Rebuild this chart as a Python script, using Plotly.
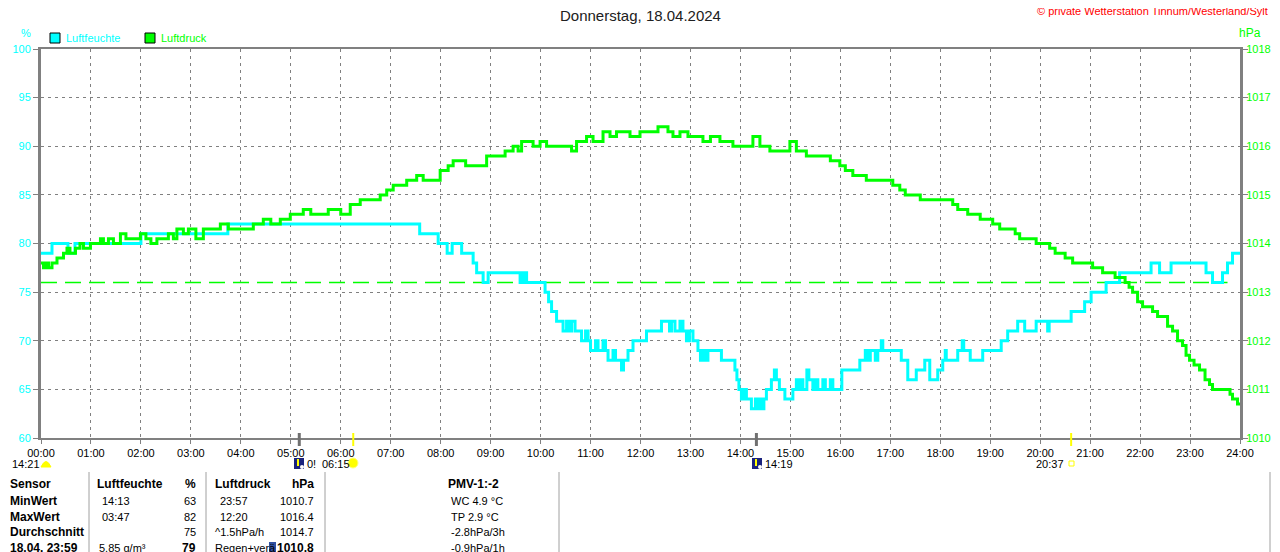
import plotly.graph_objects as go

# Luftfeuchte (%), Stufenwerte: Uhrzeit in Stunden
hum_t = [0.00, 0.22, 0.54, 0.68, 2.00, 3.74, 7.58, 7.95, 8.13, 8.23, 8.42, 8.65, 8.72, 8.85, 8.95,
         9.59, 9.62, 9.66, 9.70, 9.72, 10.09, 10.16, 10.22, 10.32, 10.45, 10.52, 10.58, 10.62, 10.69,
         10.82, 10.90, 10.95, 11.00, 11.10, 11.15, 11.25, 11.30, 11.35, 11.45, 11.50, 11.62, 11.66,
         11.75, 11.85, 12.12, 12.42, 12.58, 12.62, 12.69, 12.79, 12.85, 12.92, 12.98, 13.05, 13.15,
         13.20, 13.25, 13.30, 13.35, 13.62, 13.89, 13.93, 13.97, 14.02, 14.08, 14.12, 14.22, 14.30,
         14.33, 14.38, 14.42, 14.47, 14.52, 14.62, 14.68, 14.72, 14.78, 14.89, 15.05, 15.12, 15.15,
         15.20, 15.25, 15.33, 15.37, 15.45, 15.50, 15.55, 15.65, 15.70, 15.80, 15.85, 16.03, 16.39,
         16.50, 16.55, 16.60, 16.70, 16.75, 16.82, 16.85, 17.22, 17.35, 17.52, 17.69, 17.79, 17.95,
         18.05, 18.10, 18.12, 18.35, 18.44, 18.47, 18.60, 18.85, 19.22, 19.35, 19.55, 19.69, 19.92,
         20.15, 20.18, 20.62, 20.89, 21.02, 21.32, 21.59, 22.22, 22.39, 22.62, 23.32, 23.45, 23.65,
         23.75, 23.85, 24.00]
hum_v = [79, 80, 79, 80, 81, 82, 81, 80, 79, 80, 79, 78, 77, 76, 77,
         76, 77, 76, 77, 76, 75, 74, 73, 72, 71, 72, 71, 72, 71,
         70, 71, 70, 69, 70, 69, 70, 69, 68, 69, 68, 67, 68,
         69, 70, 71, 72, 71, 72, 71, 72, 71, 70, 71, 70, 69,
         68, 69, 68, 69, 68, 67, 66, 65, 64, 65, 64, 63, 64,
         63, 64, 63, 64, 65, 66, 67, 66, 65, 64, 65, 66, 65,
         66, 65, 67, 66, 65, 66, 65, 66, 65, 66, 65, 67, 68,
         69, 68, 69, 68, 69, 70, 69, 68, 66, 67, 68, 66, 67,
         68, 69, 68, 69, 70, 69, 68, 69, 70, 71, 72, 71, 72,
         71, 72, 73, 74, 75, 76, 77, 78, 77, 78, 77, 76, 77,
         78, 79, 79]

# Luftdruck (hPa)
pres_t = [0.00, 0.05, 0.10, 0.15, 0.22, 0.32, 0.40, 0.45, 0.52, 0.58, 0.69, 0.78, 0.85, 0.99, 1.10,
          1.19, 1.25, 1.35, 1.45, 1.59, 1.70, 1.80, 1.99, 2.10, 2.20, 2.32, 2.45, 2.55, 2.65, 2.72,
          2.85, 2.95, 3.10, 3.25, 3.40, 3.59, 3.75, 3.90, 4.12, 4.25, 4.45, 4.60, 4.79, 4.99, 5.10,
          5.25, 5.40, 5.59, 5.75, 5.85, 6.00, 6.19, 6.39, 6.50, 6.65, 6.79, 6.92, 7.05, 7.20, 7.32,
          7.45, 7.52, 7.65, 7.79, 7.99, 8.15, 8.25, 8.39, 8.50, 8.59, 8.75, 8.82, 8.92, 9.05, 9.15,
          9.29, 9.45, 9.55, 9.62, 9.75, 9.85, 9.99, 10.12, 10.25, 10.45, 10.62, 10.72, 10.92, 11.05,
          11.15, 11.25, 11.39, 11.52, 11.65, 11.79, 11.99, 12.15, 12.30, 12.35, 12.49, 12.55, 12.65,
          12.79, 12.95, 13.12, 13.25, 13.40, 13.59, 13.72, 13.85, 14.12, 14.25, 14.39, 14.50, 14.59,
          14.80, 14.99, 15.12, 15.32, 15.50, 15.65, 15.80, 15.92, 15.99, 16.10, 16.25, 16.40, 16.52,
          16.70, 16.89, 17.05, 17.19, 17.30, 17.45, 17.60, 17.72, 17.92, 18.12, 18.25, 18.35, 18.45,
          18.55, 18.65, 18.80, 18.92, 19.05, 19.19, 19.39, 19.50, 19.59, 19.75, 19.92, 20.05, 20.19,
          20.30, 20.39, 20.50, 20.65, 20.80, 20.92, 21.05, 21.12, 21.25, 21.39, 21.50, 21.62, 21.70,
          21.78, 21.85, 21.95, 22.05, 22.15, 22.25, 22.35, 22.45, 22.55, 22.65, 22.75, 22.85, 22.92,
          22.99, 23.08, 23.19, 23.30, 23.39, 23.45, 23.60, 23.72, 23.80, 23.85, 23.95, 24.00]
pres_v = [1013.6, 1013.5, 1013.6, 1013.5, 1013.6, 1013.7, 1013.7, 1013.8, 1013.9, 1013.8, 1013.9,
          1014.0, 1013.9, 1014.0, 1014.0, 1014.1, 1014.0, 1014.1, 1014.0, 1014.2, 1014.1, 1014.1,
          1014.2, 1014.1, 1014.0, 1014.1, 1014.1, 1014.2, 1014.1, 1014.3, 1014.2, 1014.3, 1014.1,
          1014.3, 1014.3, 1014.4, 1014.3, 1014.3, 1014.3, 1014.4, 1014.5, 1014.4, 1014.5, 1014.6,
          1014.6, 1014.7, 1014.6, 1014.6, 1014.7, 1014.7, 1014.6, 1014.8, 1014.9, 1014.9, 1014.9,
          1015.0, 1015.1, 1015.2, 1015.2, 1015.3, 1015.3, 1015.4, 1015.3, 1015.3, 1015.5, 1015.6,
          1015.7, 1015.7, 1015.6, 1015.6, 1015.6, 1015.6, 1015.8, 1015.8, 1015.8, 1015.9, 1016.0,
          1015.9, 1016.1, 1016.1, 1016.0, 1016.1, 1016.0, 1016.0, 1016.0, 1015.9, 1016.1, 1016.2,
          1016.1, 1016.1, 1016.3, 1016.2, 1016.3, 1016.3, 1016.2, 1016.3, 1016.3, 1016.3, 1016.4,
          1016.4, 1016.3, 1016.2, 1016.3, 1016.2, 1016.2, 1016.1, 1016.2, 1016.1, 1016.1, 1016.0,
          1016.0, 1016.2, 1016.0, 1016.0, 1015.9, 1015.9, 1016.1, 1015.9, 1015.8, 1015.8, 1015.8,
          1015.7, 1015.7, 1015.6, 1015.5, 1015.4, 1015.4, 1015.3, 1015.3, 1015.3, 1015.2, 1015.1,
          1015.0, 1015.0, 1014.9, 1014.9, 1014.9, 1014.9, 1014.8, 1014.7, 1014.7, 1014.6, 1014.6,
          1014.5, 1014.5, 1014.4, 1014.3, 1014.3, 1014.2, 1014.1, 1014.1, 1014.0, 1014.0, 1013.9,
          1013.8, 1013.8, 1013.7, 1013.6, 1013.6, 1013.6, 1013.5, 1013.5, 1013.4, 1013.4, 1013.3,
          1013.3, 1013.2, 1013.1, 1013.0, 1012.8, 1012.7, 1012.7, 1012.6, 1012.5, 1012.5, 1012.3,
          1012.2, 1012.0, 1011.9, 1011.7, 1011.6, 1011.5, 1011.4, 1011.2, 1011.1, 1011.0, 1011.0,
          1011.0, 1010.9, 1010.8, 1010.7, 1010.7]

ref_t = [0.0, 23.75]
ref_v = [76, 76]

hours = list(range(25))
hour_labels = [f"{h:02d}:00" for h in hours]

table_rows = [
    ["Sensor", "Luftfeuchte", "%", "Luftdruck", "hPa", "PMV-1:-2"],
    ["MinWert", "14:13", "63", "23:57", "1010.7", "WC 4.9 °C"],
    ["MaxWert", "03:47", "82", "12:20", "1016.4", "TP 2.9 °C"],
    ["Durchschnitt", "", "75", "^1.5hPa/h", "1014.7", "-2.8hPa/3h"],
    ["18.04. 23:59", "5.85 g/m³", "79", "Regen+verä", "1010.8", "-0.9hPa/1h"],
]

# the page puts the figure 8px in from the top-left corner
OFF = 8
W, H = 1280 - OFF, 552 - OFF
L, T = 41 - OFF, 49 - OFF
R = W - (1240 - OFF)
B = H - (438 - OFF)
PW, PH = W - L - R, H - T - B
FONT = "Liberation Sans, Arial, sans-serif"
CYAN = "#00FFFF"
GREEN = "#00FF00"
GRAY = "#808080"


def px(x):
    # page pixel -> paper
    return (x - OFF - L) / PW


def py(y):
    return (H - B - (y - OFF)) / PH


fig = go.Figure()

fig.add_trace(go.Scatter(x=ref_t, y=ref_v, mode="lines", yaxis="y",
                         line=dict(color=GREEN, width=1.5, dash="16px,8px"), hoverinfo="skip"))
fig.add_trace(go.Scatter(x=pres_t, y=pres_v, mode="lines", yaxis="y2", name="Luftdruck",
                         line=dict(color=GREEN, width=3, shape="hv")))
fig.add_trace(go.Scatter(x=hum_t, y=hum_v, mode="lines", yaxis="y", name="Luftfeuchte",
                         line=dict(color=CYAN, width=3, shape="hv")))

ann = []


def text(x, y, s, color="black", size=11, anchor="left", bold=False):
    if bold:
        s = f"<b>{s}</b>"
    ann.append(dict(x=px(x), y=py(y), xref="paper", yref="paper", text=s, showarrow=False,
                    xanchor=anchor, yanchor="middle", font=dict(family=FONT, size=size, color=color)))


text(640, 15, "Donnerstag, 18.04.2024", size=15, anchor="center", color="#202020")
text(1270, 11, "© private Wetterstation Tinnum/Westerland/Sylt", color="#FF0000", size=11, anchor="right")
text(26, 33, "%", color=CYAN, size=11, anchor="center")
text(1250, 33, "hPa", color=GREEN, size=12, anchor="center")
text(64, 38, "Luftfeuchte", color=CYAN, size=11)
text(159, 38, "Luftdruck", color=GREEN, size=11)

# Sonne/Mond Zeiten unter der Achse
text(10, 464, "14:21")
text(305, 464, "0!")
text(320, 464, "06:15")
text(763, 464, "14:19")
text(1066, 464, "20:37", anchor="right")

# Tabelle
row_y = [484, 501, 517, 532, 548]
for i, row in enumerate(table_rows):
    head = i == 0
    last = i == len(table_rows) - 1
    bsize = 12
    text(8, row_y[i], row[0], bold=True, size=bsize)
    text(95 if head else (97 if last else 100), row_y[i], row[1], bold=head, size=bsize if head else 11)
    text(198, row_y[i], row[2], anchor="right", bold=head or last, size=bsize if head or last else 11)
    text(213 if (head or i >= 3) else 218, row_y[i], row[3], bold=head, size=bsize if head else 11)
    text(316, row_y[i], row[4], anchor="right", bold=head or last, size=bsize if head or last else 11)
    if head:
        text(474, row_y[i], row[5], anchor="center", bold=True, size=bsize)
    else:
        text(449, row_y[i], row[5])

shapes = []
for sx in [89, 206, 325, 559, 1270]:
    shapes.append(dict(type="line", xref="paper", yref="paper", x0=px(sx), x1=px(sx),
                       y0=py(472), y1=py(560), line=dict(color="#A0A0A0", width=1)))

# Legendenkästchen
for x0, c in [(50, CYAN), (145, GREEN)]:
    shapes.append(dict(type="rect", xref="paper", yref="paper", x0=px(x0), x1=px(x0 + 10),
                       y0=py(43), y1=py(33), fillcolor=c, line=dict(color="black", width=1)))

# Markierungen an der Zeitachse (Mond/Sonne)
for t, c, w in [(5.17, "#707070", 3), (14.32, "#707070", 3), (6.25, "#FFFF00", 2), (20.62, "#FFFF00", 2)]:
    shapes.append(dict(type="line", xref="x", yref="paper", x0=t, x1=t, y0=py(433), y1=py(446),
                       line=dict(color=c, width=w)))

# Symbole
shapes.append(dict(type="path", xref="paper", yref="paper",
                   path=f"M {px(41)},{py(467)} Q {px(46)},{py(456)} {px(51)},{py(467)} Z",
                   fillcolor="#FFFF00", line=dict(color="#FFFF00", width=1)))
for x0 in [294, 752]:
    shapes.append(dict(type="rect", xref="paper", yref="paper", x0=px(x0), x1=px(x0 + 10),
                       y0=py(469), y1=py(458), fillcolor="#1A237E", line=dict(width=0)))
    shapes.append(dict(type="line", xref="paper", yref="paper", x0=px(x0 + 4), x1=px(x0 + 4),
                       y0=py(459), y1=py(466), line=dict(color="#FFFF00", width=2)))
    shapes.append(dict(type="circle", xref="paper", yref="paper", x0=px(x0 + 6), x1=px(x0 + 10),
                       y0=py(469), y1=py(465), fillcolor="white", line=dict(width=0)))
shapes.append(dict(type="circle", xref="paper", yref="paper", x0=px(348), x1=px(358),
                   y0=py(468), y1=py(458), fillcolor="#FFFF00", line=dict(color="#FFFF80", width=1)))
shapes.append(dict(type="rect", xref="paper", yref="paper", x0=px(1069), x1=px(1074),
                   y0=py(466), y1=py(461), line=dict(color="#FFFF00", width=1)))
shapes.append(dict(type="rect", xref="paper", yref="paper", x0=px(269), x1=px(276),
                   y0=py(552), y1=py(542), fillcolor="#3050A0", line=dict(width=0)))

fig.update_layout(
    width=W, height=H,
    margin=dict(l=L, r=R, t=T, b=B, autoexpand=False),
    paper_bgcolor="white", plot_bgcolor="white",
    showlegend=False,
    font=dict(family=FONT, size=11, color="black"),
    annotations=ann,
    shapes=shapes,
    xaxis=dict(range=[0, 24], tickvals=hours, ticktext=hour_labels, showgrid=True, automargin=False,
               gridcolor=GRAY, griddash="3px,4px", gridwidth=1, zeroline=False,
               showline=True, linecolor=GRAY, linewidth=2, mirror=True,
               ticks="outside", ticklen=4, tickcolor=GRAY, tickfont=dict(size=11, color="black")),
    yaxis=dict(range=[60, 100], dtick=5, showgrid=True, gridcolor=GRAY, griddash="3px,4px",
               automargin=False, zeroline=False, showline=True, linecolor=GRAY, linewidth=3,
               ticks="outside", ticklen=5, tickcolor=GRAY, tickfont=dict(size=11, color=CYAN)),
    yaxis2=dict(range=[1010, 1018], dtick=1, overlaying="y", side="right", showgrid=False,
                automargin=False, zeroline=False, showline=True, linecolor=GRAY, linewidth=3,
                ticks="outside", ticklen=5, tickcolor=GRAY, ticklabelstandoff=-4,
                tickfont=dict(size=11, color=GREEN)),
)

fig.write_html("out.html")
